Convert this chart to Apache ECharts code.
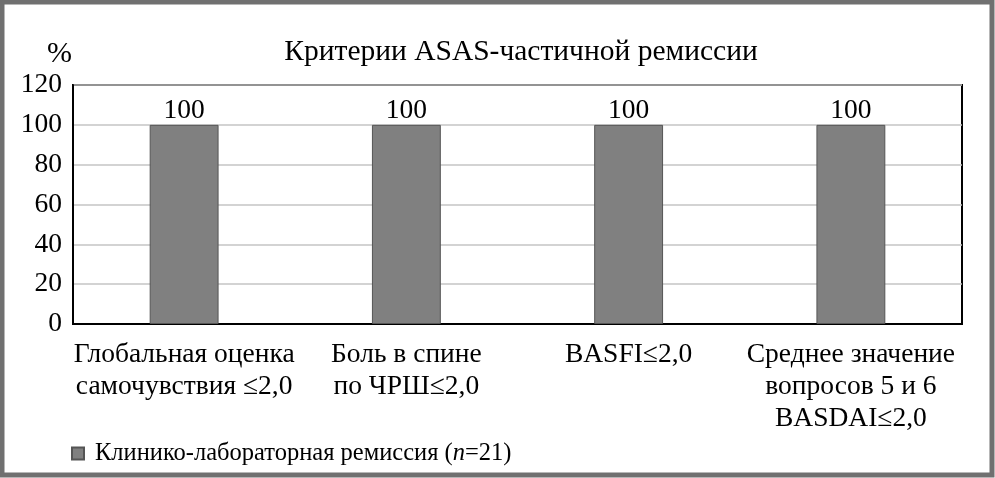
<!DOCTYPE html>
<html><head><meta charset="utf-8">
<script src="https://cdn.jsdelivr.net/npm/echarts@6/dist/echarts.min.js"></script>
<style>html,body{margin:0;padding:0;background:#fff}#c{width:995px;height:478px}</style>
</head><body><div id="c"></div>
<script>
const categories = ['Глобальная оценка\nсамочувствия ≤2,0', 'Боль в спине\nпо ЧРШ≤2,0', 'BASFI≤2,0', 'Среднее значение\nвопросов 5 и 6\nBASDAI≤2,0'];
const remissionValues = [100, 100, 100, 100];
const seriesName = 'Клинико-лабораторная ремиссия';
const yTicks = [0, 20, 40, 60, 80, 100, 120];
const FONT = '"Liberation Serif", "Times New Roman", serif';
const chart = echarts.init(document.getElementById('c'), null, {renderer: 'canvas'});
chart.setOption({
  animation: false,
  backgroundColor: '#fff',
  textStyle: {fontFamily: FONT},
  title: [
    {text: 'Критерии ASAS-частичной ремиссии', left: 516, top: 32, textAlign: 'center',
     textStyle: {fontFamily: FONT, fontSize: 29.5, fontWeight: 'normal', color: '#000'}},
    {text: '%', left: 42, top: 34, textStyle: {fontFamily: FONT, fontSize: 30, fontWeight: 'normal', color: '#000'}}
  ],
  graphic: [{type: 'rect', shape: {x: 2, y: 2, width: 990, height: 473}, style: {fill: 'none', stroke: '#707070', lineWidth: 5}, silent: true}],
  legend: {
    left: 66, top: 436, itemWidth: 12, itemHeight: 12, itemGap: 10,
    icon: 'rect',
    data: [seriesName],
    formatter: function (n) { return n + ' ({i|n}=21)'; },
    textStyle: {fontFamily: FONT, fontSize: 24.5, color: '#000', padding: [0, 0, 0, 6],
      rich: {i: {fontFamily: FONT, fontSize: 24.5, fontStyle: 'italic', color: '#000'}}}
  },
  grid: {left: 73, right: 33, top: 85, bottom: 154, show: true, borderColor: '#000', borderWidth: 2, containLabel: false},
  xAxis: {
    type: 'category', data: categories,
    axisLine: {lineStyle: {color: '#000', width: 2}},
    axisTick: {show: false},
    axisLabel: {interval: 0, margin: 15, fontFamily: FONT, fontSize: 27.5, color: '#000', lineHeight: 32}
  },
  yAxis: {
    type: 'value', min: 0, max: 120, interval: 20,
    axisLine: {show: true, lineStyle: {color: '#000', width: 2}},
    axisTick: {show: false},
    axisLabel: {margin: 11, fontFamily: FONT, fontSize: 27.5, color: '#000',
      formatter: function (v) { return yTicks.indexOf(v) >= 0 ? String(v) : ''; }},
    splitLine: {lineStyle: {color: '#c4c4c4', width: 1.5}}
  },
  series: [{
    name: seriesName, type: 'bar', data: remissionValues, barWidth: '31%',
    itemStyle: {color: '#808080', borderColor: '#555', borderWidth: 1},
    label: {show: true, position: 'top', distance: 0, fontFamily: FONT, fontSize: 27.5, color: '#000'}
  }]
});
</script></body></html>
